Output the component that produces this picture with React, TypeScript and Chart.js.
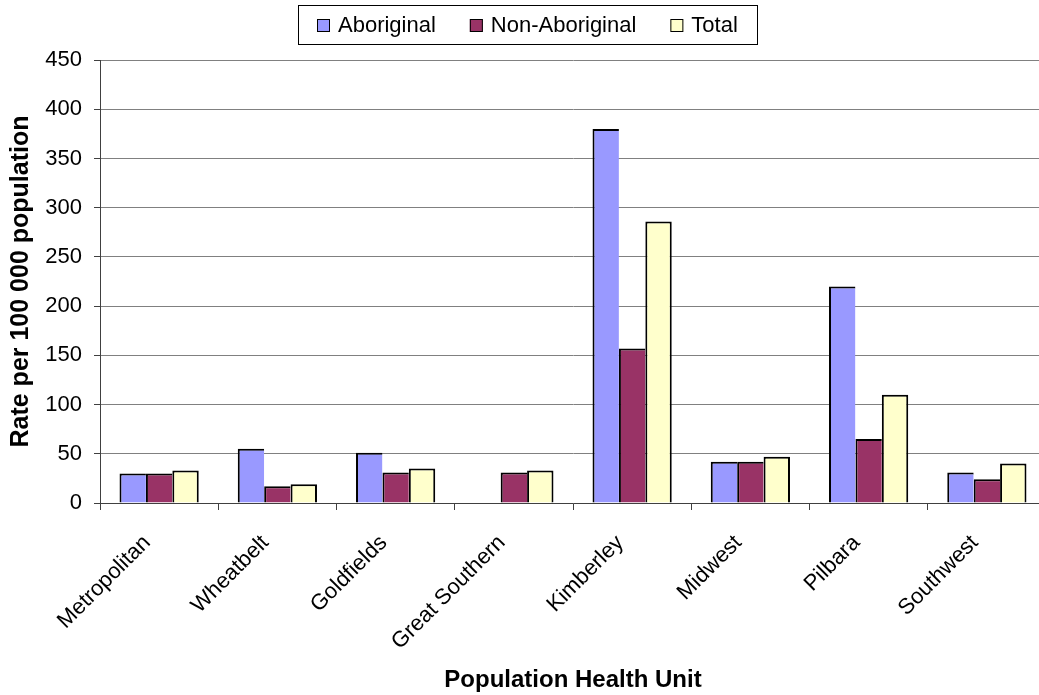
import React, { useEffect, useRef } from "react";
import { Chart, registerables } from "chart.js";

Chart.register(...registerables);

// Population health units (categories)
const units = [
  "Metropolitan",
  "Wheatbelt",
  "Goldfields",
  "Great Southern",
  "Kimberley",
  "Midwest",
  "Pilbara",
  "Southwest",
];

// Rates per 100 000 population
const aboriginal = [30, 55, 51, null, 380, 42, 220, 31];
const nonAboriginal = [30, 17, 31, 31, 157, 42, 65, 24];
const total = [33, 19, 35, 33, 286, 47, 110, 40];

const seriesNames = ["Aboriginal", "Non-Aboriginal", "Total"];
const seriesColors = ["#9999FF", "#993366", "#FFFFCC"];

// Value axis range
const rateMin = 0;
const rateMax = 450;
const rateStep = 50;

const FONT = "'Liberation Sans', Arial, Helvetica, sans-serif";
const CANVAS_W = 1048;
const CANVAS_H = 695;

// Framed legend drawn across the top of the chart
const framedLegend = {
  id: "framedLegend",
  afterDraw(chart: any) {
    const ctx = chart.ctx as CanvasRenderingContext2D;
    const datasets = chart.data.datasets;
    const box = 13;
    const gapText = 8;
    const gapItem = 34;
    const padX = 19;
    const frameTop = 5;
    const frameH = 39;
    const centerX = 527;
    const midY = frameTop + frameH / 2 + 1;

    ctx.save();
    ctx.font = `22px ${FONT}`;
    const widths = datasets.map((d: any) => ctx.measureText(d.label).width);
    const content =
      widths.reduce((s: number, w: number) => s + box + gapText + w, 0) +
      gapItem * (datasets.length - 1);
    const frameW = content + padX * 2;
    const frameLeft = Math.round(centerX - frameW / 2);

    ctx.fillStyle = "#ffffff";
    ctx.fillRect(frameLeft, frameTop, frameW, frameH);
    ctx.strokeStyle = "#000000";
    ctx.lineWidth = 1;
    ctx.strokeRect(frameLeft + 0.5, frameTop + 0.5, Math.round(frameW), frameH);

    let x = frameLeft + padX;
    datasets.forEach((d: any, i: number) => {
      const by = Math.round(midY - box / 2);
      ctx.fillStyle = d.backgroundColor;
      ctx.fillRect(x, by, box, box);
      ctx.strokeStyle = "#000000";
      ctx.strokeRect(x + 0.5, by + 0.5, box - 1, box - 1);
      ctx.fillStyle = "#000000";
      ctx.textAlign = "left";
      ctx.textBaseline = "middle";
      ctx.fillText(d.label, x + box + gapText, midY);
      x += box + gapText + widths[i] + gapItem;
    });
    ctx.restore();
  },
};

export default function App() {
  const canvasRef = useRef<HTMLCanvasElement | null>(null);

  useEffect(() => {
    if (!canvasRef.current) return;
    const seriesData = [aboriginal, nonAboriginal, total];
    const lastSeries = seriesNames.length - 1;
    const chart = new Chart(canvasRef.current, {
      type: "bar",
      data: {
        labels: units,
        datasets: seriesNames.map((name, i) => ({
          label: name,
          data: seriesData[i],
          backgroundColor: seriesColors[i],
          borderColor: "#000000",
          // neighbouring bars share a single outline
          borderWidth: { top: 2, right: i === lastSeries ? 2 : 0, bottom: 0, left: 2 },
          borderSkipped: false,
          inflateAmount: 0,
          categoryPercentage: 0.67,
          barPercentage: 1.0,
        })),
      },
      options: {
        responsive: false,
        animation: false,
        devicePixelRatio: 1,
        layout: { padding: { top: 60, right: 2, bottom: 0, left: 0 } },
        plugins: {
          legend: { display: false },
          title: { display: false },
          tooltip: { enabled: false },
        },
        scales: {
          x: {
            offset: true,
            grid: {
              display: true,
              drawOnChartArea: false,
              drawTicks: true,
              tickLength: 7,
              tickColor: "#404040",
              offset: true,
            },
            border: { display: true, color: "#404040", width: 1 },
            ticks: {
              color: "#000000",
              font: { family: FONT, size: 22 },
              maxRotation: 45,
              minRotation: 45,
              autoSkip: false,
              padding: 20,
              labelOffset: -12,
            },
            title: {
              display: true,
              text: "Population Health Unit",
              color: "#000000",
              font: { family: FONT, size: 24, weight: "bold" },
              padding: { top: 0, bottom: 0 },
            },
            afterFit(scale: any) {
              scale.height = 192;
            },
          },
          y: {
            min: rateMin,
            max: rateMax,
            ticks: {
              stepSize: rateStep,
              color: "#000000",
              font: { family: FONT, size: 22 },
              padding: 12,
            },
            grid: {
              color: "#808080",
              lineWidth: 1,
              drawTicks: true,
              tickLength: 6,
              tickColor: "#404040",
            },
            border: { display: true, color: "#404040", width: 1 },
            title: {
              display: true,
              text: "Rate per 100 000 population",
              color: "#000000",
              font: { family: FONT, size: 25, weight: "bold" },
              padding: { top: 6, bottom: 0 },
            },
            afterFit(scale: any) {
              scale.width = 100;
            },
          },
        },
      },
      plugins: [framedLegend],
    });
    return () => chart.destroy();
  }, []);

  return (
    <div
      style={{
        position: "fixed",
        left: 0,
        top: 0,
        width: 1039,
        height: 695,
        overflow: "hidden",
        background: "#ffffff",
      }}
    >
      <canvas
        ref={canvasRef}
        width={CANVAS_W}
        height={CANVAS_H}
        style={{ display: "block", width: CANVAS_W, height: CANVAS_H }}
      />
    </div>
  );
}
